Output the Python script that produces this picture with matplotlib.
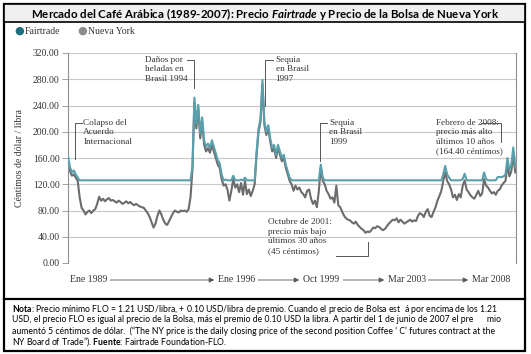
import numpy as np
import matplotlib
matplotlib.use("Agg")
import matplotlib.pyplot as plt
from matplotlib.patches import Rectangle

plt.rcParams['mathtext.fontset'] = 'custom'
plt.rcParams['mathtext.it'] = 'Lato:bold:italic'
plt.rcParams['mathtext.bf'] = 'Lato:bold'
plt.rcParams['mathtext.rm'] = 'Lato'

# monthly prices, US cents per lb, Jan 1989 .. Mar 2008
nueva_york = {
    1989: [155, 140, 133, 135, 130, 125, 100, 84, 80, 74, 78, 80],
    1990: [76, 80, 82, 90, 101, 95, 98, 94, 97, 99, 95, 96],
    1991: [94, 92, 95, 93, 90, 92, 94, 91, 93, 90, 88, 90],
    1992: [88, 86, 85, 84, 80, 76, 70, 62, 54, 60, 72, 80],
    1993: [74, 66, 60, 58, 64, 70, 76, 80, 78, 77, 80, 79],
    1994: [80, 78, 82, 100, 142, 245, 205, 234, 190, 215, 180, 170],
    1995: [175, 168, 180, 170, 160, 150, 145, 128, 118, 120, 112, 95],
    1996: [110, 128, 115, 120, 108, 122, 104, 125, 105, 112, 102, 110],
    1997: [120, 165, 200, 215, 272, 210, 195, 205, 185, 170, 175, 160],
    1998: [175, 165, 155, 160, 145, 135, 125, 120, 110, 118, 112, 115],
    1999: [108, 105, 100, 110, 112, 98, 90, 95, 85, 110, 145, 125],
    2000: [120, 110, 105, 98, 100, 92, 118, 88, 85, 78, 72, 68],
    2001: [66, 65, 62, 60, 63, 58, 55, 52, 50, 46, 48, 47],
    2002: [50, 54, 53, 56, 55, 52, 50, 52, 56, 60, 63, 66],
    2003: [65, 68, 62, 66, 63, 60, 62, 64, 66, 63, 65, 64],
    2004: [72, 76, 74, 70, 78, 82, 72, 70, 78, 85, 95, 102],
    2005: [110, 125, 138, 125, 120, 112, 100, 104, 96, 105, 100, 118],
    2006: [126, 112, 108, 103, 100, 98, 104, 110, 102, 106, 128, 118],
    2007: [115, 110, 106, 108, 104, 110, 112, 118, 122, 125, 150, 132],
    2008: [140, 165, 138],
}
fairtrade = {
    1989: [163, 146, 138, 141, 135, 130, 126, 126, 126, 126, 126, 126],
    1990: [126] * 12,
    1991: [126] * 12,
    1992: [126] * 12,
    1993: [126] * 12,
    1994: [126, 126, 126, 126, 147, 252, 212, 241, 197, 222, 187, 177],
    1995: [182, 175, 187, 177, 167, 157, 152, 135, 126, 127, 126, 126],
    1996: [126, 133, 126, 126, 126, 127, 126, 130, 126, 126, 126, 126],
    1997: [126, 170, 205, 220, 279, 215, 200, 210, 190, 175, 180, 165],
    1998: [180, 170, 160, 165, 150, 140, 130, 126, 126, 126, 126, 126],
    1999: [126, 126, 126, 126, 126, 126, 126, 126, 126, 126, 150, 130],
    2000: [126] * 12,
    2001: [126] * 12,
    2002: [126] * 12,
    2003: [126] * 12,
    2004: [126] * 12,
    2005: [126, 135, 148, 135, 130, 126, 126, 126, 126, 126, 126, 128],
    2006: [136, 126, 126, 126, 126, 126, 126, 126, 126, 126, 138, 128],
    2007: [126, 126, 126, 126, 126, 131, 131, 131, 132, 135, 160, 142],
    2008: [150, 176, 148],
}

years = sorted(nueva_york)
ny = np.concatenate([nueva_york[y] for y in years])
ft = np.concatenate([fairtrade[y] for y in years])
t = 1989 + np.arange(len(ny)) / 12.0

teal = '#5a9fac'
gray = '#6c6c6c'
serif = 'Liberation Serif'

fig = plt.figure(figsize=(5.31, 3.54), dpi=100)
W, H = 531, 354

def fx(px):
    return px / W

def fy(py):
    return 1 - py / H

# frames
fig.patches.append(Rectangle((fx(4), fy(351)), fx(521), (351 - 4) / H, transform=fig.transFigure,
                             fill=False, ec='black', lw=1.6))
fig.patches.append(Rectangle((fx(4), fy(22)), fx(521), 18 / H, transform=fig.transFigure,
                             fc='#f0f0f0', ec='black', lw=1.2))
fig.lines.append(plt.Line2D([fx(4), fx(525)], [fy(299), fy(299)], transform=fig.transFigure,
                            color='black', lw=1.6))

fig.text(0.5, fy(13.5), r'Mercado del Café Arábica (1989-2007): Precio $\mathit{Fairtrade}$ y Precio de la Bolsa de Nueva York',
         ha='center', va='center', fontsize=8.3, fontweight='bold', family='Lato')

# legend
fig.text(fx(14), fy(31), '\u25CF', color='#1f6e80', fontsize=8, va='center', family='DejaVu Sans')
fig.text(fx(25), fy(31), 'Fairtrade', fontsize=7, va='center', family=serif, color='#333333')
fig.text(fx(77), fy(31), '\u25CF', color='#8c8c8c', fontsize=8, va='center', family='DejaVu Sans')
fig.text(fx(88), fy(31), 'Nueva York', fontsize=7, va='center', family=serif, color='#333333')

ax = fig.add_axes([fx(68), fy(263), (516 - 68) / W, (263 - 53) / H])
ax.plot(t, ny, color=gray, lw=1.5, zorder=2)
ax.plot(t, ft, color=teal, lw=1.5, zorder=3)

ax.set_xlim(1989, 2008.2)
ax.set_ylim(0, 320)
ax.set_yticks(np.arange(0, 321, 40))
ax.set_yticklabels(['%.2f' % v for v in np.arange(0, 321, 40)], family=serif, fontsize=7, color='#333333')
ax.set_xticks([])
ax.grid(axis='y', color='#c8c8c8', lw=0.8)
ax.set_axisbelow(True)
for s in ['top', 'bottom']:
    ax.spines[s].set_visible(False)
for s in ['left', 'right']:
    ax.spines[s].set_color('#909090')
    ax.spines[s].set_linewidth(0.8)
ax.tick_params(axis='y', length=4, width=0.6, color='#909090', pad=2)
ax.set_ylabel('Céntimos de dólar / libra', family=serif, fontsize=7, color='#333333', labelpad=6)

ann = dict(family=serif, fontsize=6.6, color='#333333', linespacing=1.25, va='top')
lc = dict(color='#555555', lw=0.7)

def bracket(xs, ys):
    ax.plot(xs, ys, **lc, zorder=4)

# Colapso del Acuerdo Internacional
ax.text(1989.65, 220, 'Colapso del\nAcuerdo\nInternacional', **ann)
bracket([1989.6, 1989.3, 1989.3], [214, 214, 158])
# Daños por heladas
ax.text(1992.3, 316, 'Daños por\nheladas en\nBrasil 1994', **ann)
bracket([1994.1, 1994.4, 1994.4], [309, 309, 266])
# Sequia 1997
ax.text(1997.9, 316, 'Sequia\nen Brasil\n1997', **ann)
bracket([1997.8, 1997.45, 1997.45], [309, 309, 240])
# Sequia 1999
ax.text(2000.2, 220, 'Sequia\nen Brasil\n1999', **ann)
bracket([2000.1, 1999.8, 1999.8], [214, 214, 156])
# Octubre 2001
ax.text(1997.55, 68, 'Octubre de 2001:\nprecio más bajo\núltimos 30 años\n(45 céntimos)', **ann)
bracket([2000.5, 2001.85, 2001.85], [11, 11, 32])
# Febrero 2008
ax.text(2004.75, 220, 'Febrero de 2008:\nprecio más alto\núltimos 10 años\n(164.40 céntimos)', **ann)
bracket([2006.7, 2007.55, 2007.55], [214, 214, 184])

# time axis labels with arrows
date_labels = ['Ene 1989', 'Ene 1996', 'Oct 1999', 'Mar 2003', 'Mar 2008']
label_x = [70, 218, 303, 388, 472]
label_y = 280
for i, lab in enumerate(date_labels):
    fig.text(fx(label_x[i]), fy(label_y), lab, family=serif, fontsize=7, va='center', color='#333333')
for i in range(len(date_labels) - 1):
    x0 = label_x[i] + len(date_labels[i]) * 4.3 + 3
    x1 = label_x[i + 1] - 1
    fig.add_artist(matplotlib.patches.FancyArrowPatch((fx(x0), fy(label_y)), (fx(x1), fy(label_y)),
                   transform=fig.transFigure, arrowstyle='-|>,head_length=3,head_width=1.5',
                   color='#555555', lw=0.6, mutation_scale=1))

# note
note_lines = [
    r'$\mathbf{Nota}$: Precio mínimo FLO = 1.21 USD/libra, + 0.10 USD/libra de premio. Cuando el precio de Bolsa est  á por encima de los 1.21',
    'USD, el precio FLO es igual al precio de la Bolsa, más el premio de 0.10 USD la libra. A partir del 1 de junio de 2007 el pre      mio',
    'aumentó 5 céntimos de dólar.  (\u201cThe NY price is the daily closing price of the second position Coffee \u2018 C\u2019 futures contract at the',
    'NY Board of Trade\u201d). ' + r'$\mathbf{Fuente}$' + ': Fairtrade Foundation-FLO.',
]
for i, line in enumerate(note_lines):
    fig.text(fx(12), fy(309 + i * 11), line, family='Lato', fontsize=6.2, va='center', color='black')

fig.savefig('out.png', dpi=100)
